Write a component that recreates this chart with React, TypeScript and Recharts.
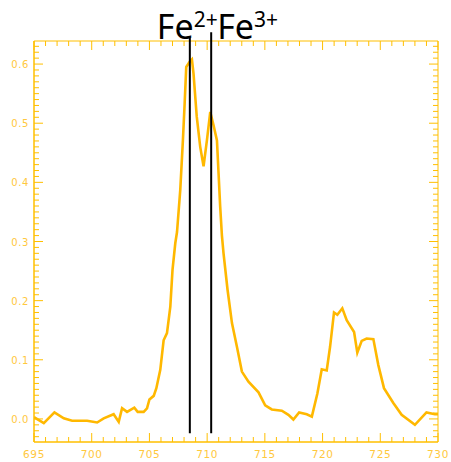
import React from 'react';
import { LineChart, Line, XAxis, YAxis, ReferenceLine, ReferenceArea } from 'recharts';

// photon energy (eV) and absorption
const energy = [
  695.0, 695.85, 696.77, 697.58, 698.3, 699.6, 700.47, 701.04, 701.9, 702.34,
  702.63, 703.06, 703.69, 703.98, 704.5, 704.79, 705.0, 705.37, 705.6, 705.94,
  706.23, 706.52, 706.81, 707.0, 707.24, 707.39, 707.67, 707.9, 708.05, 708.19,
  708.48, 708.68, 708.82, 709.1, 709.4, 709.69, 709.98, 710.27, 710.55, 710.85,
  710.99, 711.13, 711.28, 711.42, 711.77, 712.15, 712.58, 713.01, 713.58, 714.45,
  715.03, 715.6, 716.47, 717.04, 717.47, 717.97, 718.63, 719.07, 719.55, 719.93,
  720.36, 720.65, 720.99, 721.28, 721.71, 722.09, 722.73, 723.01, 723.39, 723.82,
  724.4, 724.83, 725.32, 726.13, 726.85, 728.0, 729.0, 729.73, 730.0,
];
const intensity = [
  0.003, -0.007, 0.011, 0.001, -0.003, -0.003, -0.006, 0.001, 0.008, -0.005,
  0.018, 0.012, 0.019, 0.012, 0.012, 0.018, 0.033, 0.039, 0.052, 0.083,
  0.133, 0.145, 0.19, 0.252, 0.297, 0.316, 0.387, 0.471, 0.533, 0.595,
  0.604, 0.608, 0.584, 0.511, 0.46, 0.427, 0.471, 0.519, 0.497, 0.471,
  0.415, 0.359, 0.31, 0.28, 0.218, 0.162, 0.122, 0.08, 0.063, 0.045,
  0.023, 0.016, 0.014, 0.007, -0.001, 0.011, 0.008, 0.004, 0.043, 0.084,
  0.082, 0.122, 0.18, 0.176, 0.187, 0.167, 0.147, 0.112, 0.132, 0.136,
  0.135, 0.091, 0.052, 0.027, 0.007, -0.01, 0.011, 0.008, 0.008,
];

const xLabels = [695, 700, 705, 710, 715, 720, 725, 730];
const yLabels = [0.0, 0.1, 0.2, 0.3, 0.4, 0.5, 0.6];

const markers = [
  { energy: 708.5, ion: '2+', top: 0.645 },
  { energy: 710.35, ion: '3+', top: 0.654 },
];

const data = energy.map((e, i) => ({ e, v: intensity[i] }));

// minor ticks: every 1 eV and every 0.01
const xTicks: number[] = [];
for (let t = 695; t <= 730; t++) xTicks.push(t);
const yTicks: number[] = [];
for (let t = -3; t <= 63; t++) yTicks.push(Math.round(t) / 100);

const AXIS = '#FFBF00';
const LABEL = '#FFC83D';
const LINE = '#FFB800';
const PL = 34;
const PR = 438;
const PT = 41;
const PB = 442;

const XTick = (props: any) => {
  const { x, payload } = props;
  const v = payload.value;
  const major = xLabels.includes(v);
  const len = major ? 9 : 5;
  return (
    <g>
      <line x1={x} x2={x} y1={PB} y2={PB - len} stroke={AXIS} />
      <line x1={x} x2={x} y1={PT} y2={PT + len} stroke={AXIS} />
      {major && (
        <text x={x} y={PB + 16} textAnchor="middle" fill={LABEL} fontSize={10.5} letterSpacing={0.6}
          fontFamily="DejaVu Sans">
          {v}
        </text>
      )}
    </g>
  );
};

const YTick = (props: any) => {
  const { y, payload } = props;
  const v = Math.round(payload.value * 100) / 100;
  const major = yLabels.some((l) => Math.abs(l - v) < 1e-6);
  const len = major ? 9 : 5;
  return (
    <g>
      <line x1={PL} x2={PL + len} y1={y} y2={y} stroke={AXIS} />
      <line x1={PR} x2={PR - len} y1={y} y2={y} stroke={AXIS} />
      {major && (
        <text x={PL - 5} y={y + 4} textAnchor="end" fill={LABEL} fontSize={10} letterSpacing={0.6}
          fontFamily="DejaVu Sans">
          {v.toFixed(1)}
        </text>
      )}
    </g>
  );
};

const IonLabel = (ion: string, first: boolean) => (props: any) => {
  const vb = props.viewBox || {};
  const x = first ? vb.x - 33 : vb.x + 6;
  return (
    <text x={x} y={39} fill="#000" fontSize={34} fontFamily="Noto Sans">
      Fe
      <tspan dy={-12} fontSize={21}>{ion}</tspan>
    </text>
  );
};

export default function App() {
  return (
    <div style={{ position: 'absolute', left: 0, top: 0, background: '#fff' }}>
      <LineChart width={451} height={462} data={data} margin={{ top: PT, right: 451 - PR, left: 0, bottom: 0 }}>
        <XAxis
          dataKey="e"
          type="number"
          domain={[695, 730]}
          ticks={xTicks}
          interval={0}
          allowDataOverflow
          height={462 - PB}
          stroke={AXIS}
          tickLine={false}
          tickSize={0}
          tickMargin={0}
          tick={<XTick />}
        />
        <YAxis
          type="number"
          domain={[-0.039, 0.639]}
          ticks={yTicks}
          interval={0}
          allowDataOverflow
          width={PL}
          stroke={AXIS}
          tickLine={false}
          tickSize={0}
          tickMargin={0}
          tick={<YTick />}
        />
        <ReferenceArea x1={695} x2={730} y1={-0.039} y2={0.639} fill="none" stroke={AXIS} strokeWidth={1} />
        <Line dataKey="v" stroke={LINE} strokeWidth={2.6} dot={false} isAnimationActive={false} />
        {markers.map((m, i) => (
          <ReferenceLine
            key={m.ion}
            segment={[{ x: m.energy, y: -0.024 }, { x: m.energy, y: m.top }]}
            stroke="#000"
            strokeWidth={2}
            ifOverflow="visible"
            label={IonLabel(m.ion, i === 0)}
          />
        ))}
      </LineChart>
    </div>
  );
}
